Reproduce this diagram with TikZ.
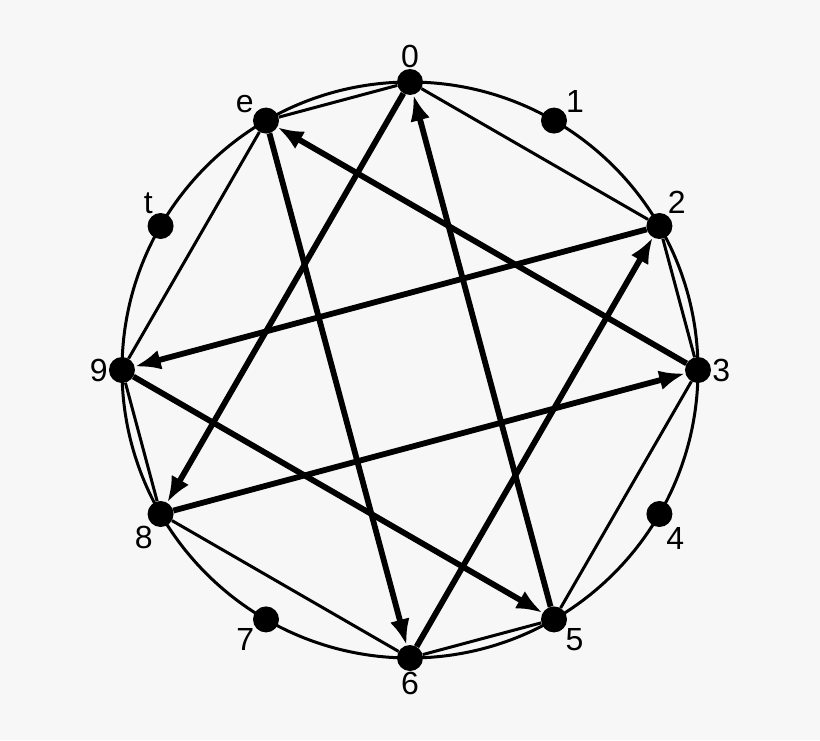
\documentclass[tikz,border=0pt]{standalone}
\usepackage{fontspec}
\setmainfont{Liberation Sans}
\usetikzlibrary{arrows.meta}
\definecolor{paper}{RGB}{247,247,247}
\begin{document}
\begin{tikzpicture}[x=1pt, y=1pt, >={Latex[length=26pt,width=20pt]},
    dot/.style={circle, fill=black, inner sep=0pt, minimum size=26pt},
    every label/.style={font=\fontsize{32}{32}\selectfont, inner sep=1pt, label distance=0pt},
    chord/.style={line width=3pt},
    jump/.style={line width=5.8pt, ->}]
  \fill[paper] (-410,-370) rectangle (410,370);
  \useasboundingbox (-410,-370) rectangle (410,370);

  \draw [line width=3pt] (0,0) circle (288);

  \node(p0) [dot, label=90:{0}]    at (90:288)   {};
  \node(p1) [dot, label=34:{1}]    at (60:288)   {};
  \node(p2) [dot, label=56:{2}]    at (30:288)   {};
  \node(p3) [dot, label=0:{3}]     at (0:288)    {};
  \node(p4) [dot, label=-64:{4}]   at (-30:288)  {};
  \node(p5) [dot, label=-37:{5}]   at (-60:288)  {};
  \node(p6) [dot, label=-90:{6}]   at (-90:288)  {};
  \node(p7) [dot, label=-143:{7}]  at (-120:288) {};
  \node(p8) [dot, label=-121:{8}]  at (-150:288) {};
  \node(p9) [dot, label=180:{9}]   at (180:288)  {};
  \node(pt) [dot, label=120:{t}]   at (150:288)  {};
  \node(pe) [dot, label=148:{e}]   at (120:288)  {};

  % thin chords
  \draw [chord] (p0) -- (pe);
  \draw [chord] (p0) -- (p2);
  \draw [chord] (p2) -- (p3);
  \draw [chord] (p3) -- (p5);
  \draw [chord] (p5) -- (p6);
  \draw [chord] (p6) -- (p8);
  \draw [chord] (p8) -- (p9);
  \draw [chord] (p9) -- (pe);

  % thick arrows
  \draw [jump] (p0) -- (p8);
  \draw [jump] (p8) -- (p3);
  \draw [jump] (p3) -- (pe);
  \draw [jump] (pe) -- (p6);
  \draw [jump] (p6) -- (p2);
  \draw [jump] (p2) -- (p9);
  \draw [jump] (p9) -- (p5);
  \draw [jump] (p5) -- (p0);
\end{tikzpicture}
\end{document}
